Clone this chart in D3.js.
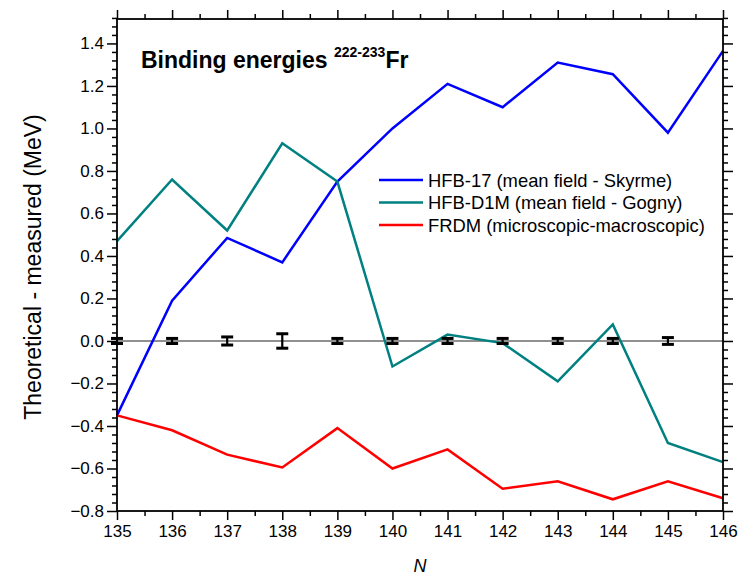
<!DOCTYPE html>
<html>
<head>
<meta charset="utf-8">
<script src="https://cdn.jsdelivr.net/npm/d3@7"></script>
<style>
  body { margin: 0; background: #fff; }
  text { font-family: "Liberation Sans", Arial, sans-serif; }
</style>
</head>
<body>
<script>
// chart data
var N = [135, 136, 137, 138, 139, 140, 141, 142, 143, 144, 145, 146];
var hfb17 = [-0.35, 0.19, 0.485, 0.37, 0.75, 1.0, 1.21, 1.10, 1.31, 1.255, 0.98, 1.365];
var hfbD1M = [0.47, 0.76, 0.52, 0.93, 0.75, -0.12, 0.03, -0.01, -0.19, 0.078, -0.48, -0.57];
var frdm = [-0.35, -0.42, -0.535, -0.595, -0.41, -0.60, -0.51, -0.695, -0.66, -0.745, -0.66, -0.74];
// measured (zero) with uncertainties, N = 135..145
var errN = [135, 136, 137, 138, 139, 140, 141, 142, 143, 144, 145];
var errVal = [0.012, 0.012, 0.019, 0.034, 0.012, 0.012, 0.012, 0.012, 0.012, 0.012, 0.016];
var yTicks = [-0.8, -0.6, -0.4, -0.2, 0.0, 0.2, 0.4, 0.6, 0.8, 1.0, 1.2, 1.4];
var seriesNames = ["HFB-17 (mean field - Skyrme)", "HFB-D1M (mean field - Gogny)", "FRDM (microscopic-macroscopic)"];
var seriesColors = ["#0000ff", "#008080", "#ff0000"];

var width = 741;
var height = 577;
var margin = {top: 19, right: 18, bottom: 66, left: 117};

var svg = d3.select("body")
  .append("svg")
  .attr("width", width)
  .attr("height", height);

var x = d3.scaleLinear().domain([135, 146]).range([margin.left, width - margin.right]);
var y = d3.scaleLinear().domain([-0.8, 1.515]).range([height - margin.bottom, margin.top]);

var fmt = d3.format(".1f");
var majorX = d3.range(135, 146.01, 1);
var minorX = d3.range(135.5, 146, 1);
var minorY = d3.range(-0.8, 1.52, 0.04).filter(function(v) {
  return Math.abs(Math.round(v * 5) - v * 5) > 0.01;
});

// zero line
svg.append("line")
  .attr("x1", x(135)).attr("x2", x(146))
  .attr("y1", y(0)).attr("y2", y(0))
  .style("stroke", "#222").style("stroke-width", 1.2);

// series lines
var line = d3.line()
  .x(function(d) { return x(d[0]); })
  .y(function(d) { return y(d[1]); });

[hfb17, hfbD1M, frdm].forEach(function(vals, i) {
  svg.append("path")
    .datum(N.map(function(n, j) { return [n, vals[j]]; }))
    .attr("d", line)
    .style("fill", "none")
    .style("stroke", seriesColors[i])
    .style("stroke-width", 2.5)
    .style("stroke-linejoin", "miter");
});

// error bars
var eb = svg.append("g").style("stroke", "#000").style("stroke-width", 2.2);
errN.forEach(function(n, i) {
  var cx = x(n), e = errVal[i];
  eb.append("line").attr("x1", cx).attr("x2", cx).attr("y1", y(-e)).attr("y2", y(e));
  eb.append("line").attr("x1", cx - 6).attr("x2", cx + 6).attr("y1", y(e)).attr("y2", y(e)).style("stroke-width", 3);
  eb.append("line").attr("x1", cx - 6).attr("x2", cx + 6).attr("y1", y(-e)).attr("y2", y(-e)).style("stroke-width", 3);
});

// axes (ticks outward on all four sides)
svg.append("g").attr("transform", "translate(0," + y(-0.8) + ")")
  .call(d3.axisBottom(x).tickValues(majorX).tickSize(9).tickPadding(5).tickFormat(d3.format("d")));
svg.append("g").attr("transform", "translate(0," + y(-0.8) + ")")
  .call(d3.axisBottom(x).tickValues(minorX).tickSize(5).tickFormat(""));
svg.append("g").attr("transform", "translate(0," + y(1.515) + ")")
  .call(d3.axisTop(x).tickValues(majorX).tickSize(9).tickFormat(""));
svg.append("g").attr("transform", "translate(0," + y(1.515) + ")")
  .call(d3.axisTop(x).tickValues(minorX).tickSize(5).tickFormat(""));
svg.append("g").attr("transform", "translate(" + x(135) + ",0)")
  .call(d3.axisLeft(y).tickValues(yTicks).tickSize(10).tickPadding(3).tickFormat(fmt));
svg.append("g").attr("transform", "translate(" + x(135) + ",0)")
  .call(d3.axisLeft(y).tickValues(minorY).tickSize(5).tickFormat(""));
svg.append("g").attr("transform", "translate(" + x(146) + ",0)")
  .call(d3.axisRight(y).tickValues(yTicks).tickSize(10).tickFormat(""));
svg.append("g").attr("transform", "translate(" + x(146) + ",0)")
  .call(d3.axisRight(y).tickValues(minorY).tickSize(5).tickFormat(""));

svg.selectAll(".domain").remove();
svg.selectAll(".tick line").style("stroke", "#000").style("stroke-width", 1.5);
svg.selectAll(".tick text").style("font-size", "17px").style("fill", "#000")
  .style("font-family", "'Liberation Sans', Arial, sans-serif");

// frame
svg.append("rect")
  .attr("x", x(135)).attr("y", y(1.515))
  .attr("width", x(146) - x(135)).attr("height", y(-0.8) - y(1.515))
  .style("fill", "none").style("stroke", "#000").style("stroke-width", 1.8);

// title
var title = svg.append("text")
  .attr("x", 141).attr("y", 68)
  .style("font-size", "23px").style("font-weight", "bold");
title.append("tspan").text("Binding energies ");
title.append("tspan").attr("dy", -11).style("font-size", "14px").text("222-233");
title.append("tspan").attr("dy", 11).text("Fr");

// legend
seriesNames.forEach(function(name, i) {
  var ly = 180 + i * 22.5;
  svg.append("line")
    .attr("x1", 379).attr("x2", 423).attr("y1", ly).attr("y2", ly)
    .style("stroke", seriesColors[i]).style("stroke-width", 2.5);
  svg.append("text")
    .attr("x", 428).attr("y", ly + 6.5)
    .style("font-size", "18.4px")
    .text(name);
});

// axis labels
svg.append("text")
  .attr("transform", "translate(41," + 267 + ") rotate(-90)")
  .attr("text-anchor", "middle")
  .style("font-size", "23px")
  .text("Theoretical - measured (MeV)");

svg.append("text")
  .attr("x", x(140.5)).attr("y", 572)
  .attr("text-anchor", "middle")
  .style("font-size", "18px").style("font-style", "italic")
  .text("N");
</script>
</body>
</html>
